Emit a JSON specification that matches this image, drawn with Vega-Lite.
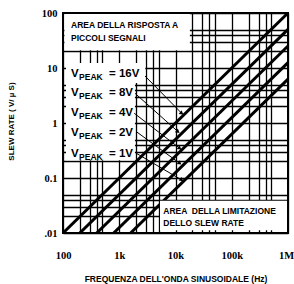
{
  "$schema": "https://vega.github.io/schema/vega-lite/v6.json",
  "width": 225,
  "height": 220,
  "autosize": {"type": "none"},
  "padding": {"left": 63, "top": 13, "right": 6, "bottom": 51},
  "background": "white",
  "config": {"view": {"stroke": "black", "strokeWidth": 2}, "font": "Liberation Sans"},
  "datasets": {
    "lines": [
      {"v": "1V", "x": 1591.5, "y": 0.01}, {"v": "1V", "x": 1000000, "y": 6.283},
      {"v": "2V", "x": 795.8, "y": 0.01}, {"v": "2V", "x": 1000000, "y": 12.566},
      {"v": "4V", "x": 397.9, "y": 0.01}, {"v": "4V", "x": 1000000, "y": 25.13},
      {"v": "8V", "x": 198.9, "y": 0.01}, {"v": "8V", "x": 1000000, "y": 50.27},
      {"v": "16V", "x": 100, "y": 0.01}, {"v": "16V", "x": 1000000, "y": 100}
    ],
    "boxes": [
      {"x": 106, "x2": 18000, "y": 21, "y2": 96},
      {"x": 113, "x2": 2900, "y": 5.33, "y2": 12.3},
      {"x": 113, "x2": 1900, "y": 0.21, "y2": 5.33},
      {"x": 5300, "x2": 960000, "y": 0.0112, "y2": 0.0385}
    ],
    "leaders": [
      {"x": 2871, "y": 7.15, "x2": 12900, "y2": 1.5},
      {"x": 1905, "y": 3.47, "x2": 11070, "y2": 0.695},
      {"x": 1850, "y": 1.5, "x2": 11900, "y2": 0.347},
      {"x": 2018, "y": 0.695, "x2": 11900, "y2": 0.185},
      {"x": 2018, "y": 0.281, "x2": 12900, "y2": 0.092}
    ],
    "vlabels": [
      {"x": 139, "y": 7.77, "t": "= 16V"},
      {"x": 139, "y": 3.5, "t": "= 8V"},
      {"x": 139, "y": 1.52, "t": "= 4V"},
      {"x": 139, "y": 0.66, "t": "= 2V"},
      {"x": 139, "y": 0.273, "t": "= 1V"}
    ],
    "notes": [
      {"x": 139, "y": 60.5, "t": "AREA DELLA RISPOSTA A"},
      {"x": 139, "y": 35.1, "t": "PICCOLI SEGNALI"},
      {"x": 6070, "y": 0.0254, "t": "AREA \u00a0DELLA LIMITAZIONE"},
      {"x": 6070, "y": 0.01538, "t": "DELLO SLEW RATE"}
    ]
  },
  "encoding": {
    "x": {
      "field": "x", "type": "quantitative",
      "scale": {"type": "log", "domain": [100, 1000000], "nice": false},
      "axis": {
        "values": [100, 200, 300, 400, 500, 1000, 2000, 3000, 4000, 5000, 10000, 20000, 30000, 40000, 50000, 100000, 200000, 300000, 400000, 500000, 1000000],
        "labelExpr": "datum.value == 100 ? '100' : datum.value == 1000 ? '1k' : datum.value == 10000 ? '10k' : datum.value == 100000 ? '100k' : datum.value == 1000000 ? '1M' : ''",
        "grid": true, "gridColor": "black", "gridWidth": 1.3, "gridOpacity": 1,
        "ticks": false, "tickSize": 0, "domain": false,
        "labelPadding": 17, "labelFontSize": 10.5, "labelFontWeight": "bold", "labelFont": "Liberation Sans Narrow", "labelColor": "black",
        "labelOffset": {"condition": {"test": "datum.value == 1000000", "value": -2}, "value": 0},
        "labelOverlap": false, "labelFlush": false,
        "title": "FREQUENZA DELL'ONDA SINUSOIDALE (Hz)", "titleFontSize": 8.5, "titleFontWeight": "bold", "titleColor": "black", "titleFont": "Liberation Sans",
        "titleY": 45, "titleBaseline": "middle"
      }
    },
    "y": {
      "field": "y", "type": "quantitative",
      "scale": {"type": "log", "domain": [0.01, 100], "nice": false},
      "axis": {
        "values": [0.01, 0.02, 0.03, 0.04, 0.05, 0.1, 0.2, 0.3, 0.4, 0.5, 1, 2, 3, 4, 5, 10, 20, 30, 40, 50, 100],
        "labelExpr": "datum.value == 100 ? '100' : datum.value == 10 ? '10' : datum.value == 1 ? '1' : datum.value == 0.1 ? '0.1' : datum.value == 0.01 ? '.01' : ''",
        "grid": true, "gridColor": "black", "gridWidth": 1.3, "gridOpacity": 1,
        "ticks": false, "tickSize": 0, "domain": false,
        "labelPadding": 6, "labelFontSize": 10.5, "labelFontWeight": "bold", "labelFont": "Liberation Sans Narrow", "labelColor": "black",
        "labelOverlap": false, "labelFlush": false,
        "title": "SLEW RATE ( V/ \u00b5 S)", "titleFontSize": 8, "titleFontWeight": "bold", "titleColor": "black", "titleFont": "Liberation Sans",
        "titleX": -52, "titleY": 108, "titleBaseline": "middle", "titleAlign": "center", "titleAngle": 270
      }
    }
  },
  "layer": [
    {
      "data": {"name": "lines"},
      "mark": {"type": "line", "color": "black", "strokeWidth": 3, "clip": true},
      "encoding": {"detail": {"field": "v"}}
    },
    {
      "data": {"name": "boxes"},
      "mark": {"type": "rect", "color": "white", "opacity": 1},
      "encoding": {"x2": {"field": "x2"}, "y2": {"field": "y2"}}
    },
    {
      "data": {"name": "leaders"},
      "mark": {"type": "rule", "color": "black", "strokeWidth": 1},
      "encoding": {"x2": {"field": "x2"}, "y2": {"field": "y2"}}
    },
    {
      "data": {"name": "leaders"},
      "mark": {"type": "point", "shape": "triangle-right", "filled": true, "color": "black", "size": 22, "angle": 38, "opacity": 1},
      "encoding": {"x": {"field": "x2", "type": "quantitative"}, "y": {"field": "y2", "type": "quantitative"}}
    },
    {
      "data": {"name": "vlabels"},
      "mark": {"type": "text", "text": "V", "align": "left", "baseline": "middle", "fontSize": 11.5, "fontWeight": "bold", "color": "black"}
    },
    {
      "data": {"name": "vlabels"},
      "mark": {"type": "text", "text": "PEAK", "align": "left", "baseline": "middle", "dx": 8, "dy": 3, "fontSize": 8.5, "fontWeight": "bold", "color": "black"}
    },
    {
      "data": {"name": "vlabels"},
      "mark": {"type": "text", "align": "left", "baseline": "middle", "dx": 38, "fontSize": 11.5, "fontWeight": "bold", "color": "black"},
      "encoding": {"text": {"field": "t"}}
    },
    {
      "data": {"name": "notes"},
      "mark": {"type": "text", "align": "left", "baseline": "middle", "fontSize": 8.5, "fontWeight": "bold", "color": "black"},
      "encoding": {"text": {"field": "t"}}
    }
  ]
}
